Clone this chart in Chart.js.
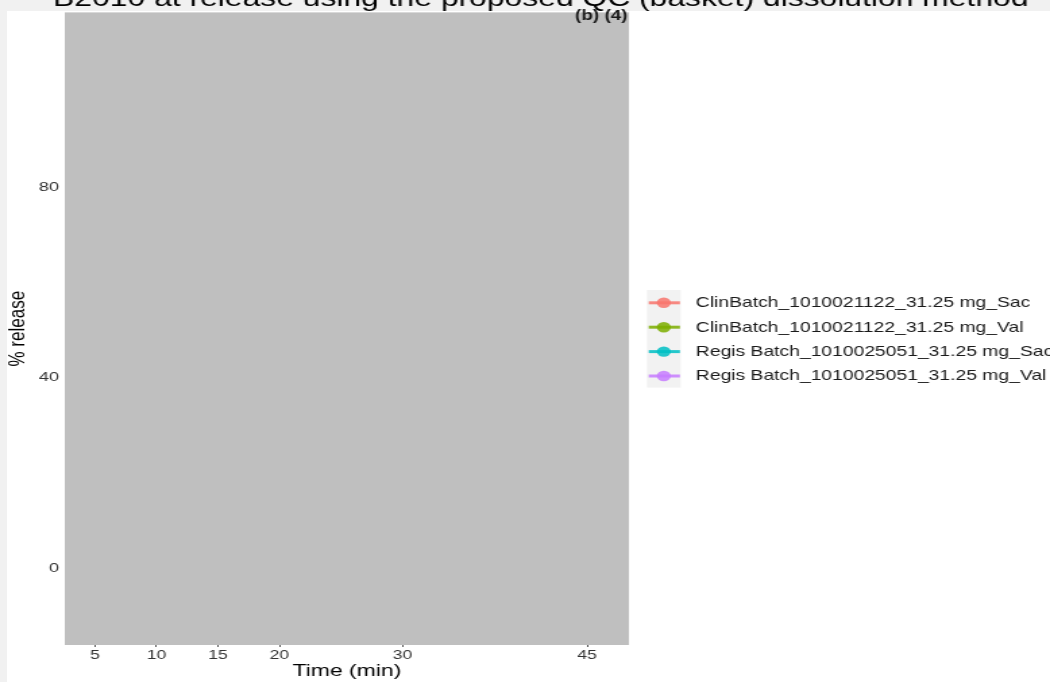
<!DOCTYPE html>
<html>
<head>
<meta charset="utf-8">
<script src="https://cdn.jsdelivr.net/npm/chart.js@4"></script>
<style>
  html, body { margin: 0; padding: 0; width: 1050px; height: 682px; overflow: hidden; background: #f1f1f1; }
  #sheet { position: absolute; left: 7px; top: 11px; right: 0; bottom: 0; background: #ffffff; }
  #stage { position: absolute; left: 0; top: 0; width: 778px; height: 682px; transform: scaleX(1.3496); transform-origin: 0 0; }
</style>
</head>
<body>
<div id="sheet"></div>
<div id="stage"><canvas id="c" width="778" height="682"></canvas></div>
<script>
// Texts
const chartTitle = 'B2010 at release using the proposed QC (basket) dissolution method';
const panelTag = '(b) (4)';
const xTitle = 'Time (min)';
const yTitle = '% release';

// Axis breaks
const timePoints = [5, 10, 15, 20, 30, 45];
const releaseTicks = [0, 40, 80];

// Series
const seriesNames = [
  'ClinBatch_1010021122_31.25 mg_Sac',
  'ClinBatch_1010021122_31.25 mg_Val',
  'Regis Batch_1010025051_31.25 mg_Sac',
  'Regis Batch_1010025051_31.25 mg_Val'
];
const seriesColors = ['rgba(248,118,109,0.85)', 'rgba(124,174,0,0.85)', 'rgba(0,191,196,0.85)', 'rgba(199,124,255,0.85)'];

// % release per time point (no readings plotted in the panel)
const clinSacRelease = [];
const clinValRelease = [];
const regisSacRelease = [];
const regisValRelease = [];
const seriesValues = [clinSacRelease, clinValRelease, regisSacRelease, regisValRelease];

const FONT = '"Liberation Sans", Arial, sans-serif';

const panelBackground = {
  id: 'panelBackground',
  beforeDraw(chart) {
    const { ctx, chartArea: a } = chart;
    ctx.save();
    ctx.fillStyle = '#bfbfbf';
    ctx.fillRect(a.left, a.top, a.right - a.left, a.bottom - a.top);
    ctx.restore();
  }
};

const headerText = {
  id: 'headerText',
  afterDraw(chart) {
    const { ctx, chartArea: a } = chart;
    ctx.save();
    ctx.fillStyle = '#000000';
    ctx.font = '23.6px ' + FONT;
    ctx.textAlign = 'center';
    ctx.textBaseline = 'alphabetic';
    ctx.fillText(chartTitle, 400.7, 5.5);
    ctx.font = 'bold 14px "Liberation Sans Narrow", ' + FONT;
    ctx.textAlign = 'right';
    ctx.fillStyle = '#1a1a1a';
    ctx.fillText(panelTag, a.right - 1, 19.5);
    ctx.restore();
  }
};

const keyLegend = {
  id: 'keyLegend',
  afterDraw(chart) {
    const { ctx } = chart;
    const sets = chart.data.datasets;
    const x0 = 479.3, w = 25.1, y0 = 290, rowH = 24.4, firstY = 302.8;
    ctx.save();
    ctx.fillStyle = '#f2f2f2';
    ctx.fillRect(x0, y0, w, rowH * sets.length);
    sets.forEach((ds, i) => {
      const cy = firstY + i * rowH;
      ctx.strokeStyle = ds.borderColor;
      ctx.lineWidth = 3;
      ctx.beginPath();
      ctx.moveTo(x0 + 1.4, cy);
      ctx.lineTo(x0 + w - 0.6, cy);
      ctx.stroke();
      ctx.fillStyle = ds.backgroundColor;
      ctx.beginPath();
      ctx.arc(x0 + w / 2, cy, 5.2, 0, Math.PI * 2);
      ctx.fill();
      ctx.fillStyle = '#1a1a1a';
      ctx.font = '14.3px ' + FONT;
      ctx.textAlign = 'left';
      ctx.textBaseline = 'middle';
      ctx.fillText(ds.label, 515.6, cy + 0.5);
    });
    ctx.restore();
  }
};

new Chart(document.getElementById('c'), {
  type: 'line',
  data: {
    datasets: seriesNames.map((name, i) => ({
      label: name,
      data: seriesValues[i].map((v, j) => ({ x: timePoints[j], y: v })),
      borderColor: seriesColors[i],
      backgroundColor: seriesColors[i],
      borderWidth: 2,
      pointRadius: 4
    }))
  },
  options: {
    responsive: false,
    animation: false,
    devicePixelRatio: 1,
    events: [],
    layout: { padding: { top: 6, right: 312, bottom: 0, left: 0 } },
    plugins: {
      legend: { display: false },
      title: { display: false },
      tooltip: { enabled: false }
    },
    scales: {
      x: {
        type: 'linear',
        min: 2.55,
        max: 48.4,
        afterBuildTicks: s => { s.ticks = timePoints.map(v => ({ value: v })); },
        afterFit: s => { s.height = 37; },
        grid: { drawOnChartArea: false, drawTicks: true, tickLength: 2, tickColor: '#555555', tickWidth: 1 },
        border: { display: false },
        ticks: { autoSkip: false, maxRotation: 0, color: '#333333', font: { family: FONT, size: 13 }, padding: 1 },
        title: { display: true, text: xTitle, color: '#000000', font: { family: FONT, size: 17 }, padding: { top: 0, bottom: 0 } }
      },
      y: {
        type: 'linear',
        min: -16.25,
        max: 116.9,
        afterBuildTicks: s => { s.ticks = releaseTicks.map(v => ({ value: v })); },
        afterFit: s => { s.width = 48; },
        grid: { drawOnChartArea: false, drawTicks: false },
        border: { display: false },
        ticks: { color: '#333333', font: { family: FONT, size: 13.5 }, padding: 4.3 },
        title: { display: true, text: yTitle, color: '#000000', font: { family: FONT, size: 17 }, padding: { top: 3, bottom: 0 } }
      }
    }
  },
  plugins: [panelBackground, headerText, keyLegend]
});
</script>
</body>
</html>
